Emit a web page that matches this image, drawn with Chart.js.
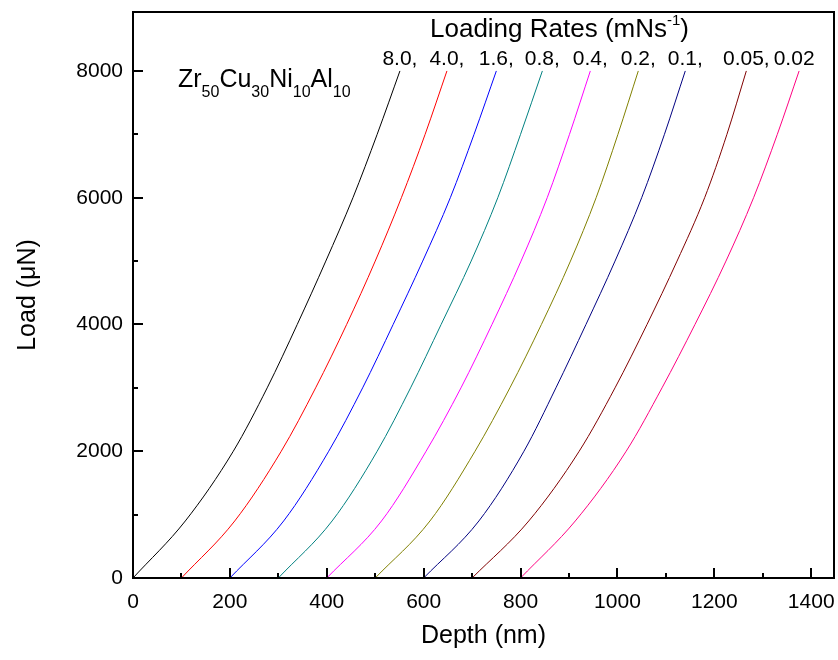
<!DOCTYPE html>
<html>
<head>
<meta charset="utf-8">
<script src="https://cdn.jsdelivr.net/npm/chart.js@4.4.0/dist/chart.umd.min.js"></script>
<style>
    body { margin: 0; background: #fff; }
    #wrap { width: 838px; height: 660px; }
</style>
</head>
<body>
<div id="wrap"><canvas id="loadChart" width="838" height="660"></canvas></div>
<script>
// Load levels (uN) at which the depth of every curve was read
const loads = [0, 900, 2000, 3000, 4000, 5000, 6000, 7000, 8000];

// Depth (nm) at those loads, one array per loading rate (mN/s)
const depth8_0  = [0,   108, 207,  277,  339,  398,  454,  504,  551];
const depth4_0  = [100, 210, 306,  377,  441,  500,  554,  603,  648];
const depth1_6  = [200, 311, 404,  474,  537,  598,  655,  704,  750];
const depth0_8  = [300, 411, 504,  573,  636,  698,  753,  800,  845];
const depth0_4  = [400, 513, 605,  677,  741,  801,  855,  901,  944];
const depth0_2  = [500, 613, 706,  778,  843,  903,  956,  1001, 1043];
const depth0_1  = [600, 714, 807,  873,  935,  995,  1050, 1097, 1140];
const depth0_05 = [700, 817, 921,  995,  1061, 1123, 1180, 1226, 1266];
const depth0_02 = [800, 913, 1018, 1092, 1160, 1224, 1281, 1330, 1375];

const rateLabels = ['8.0,', '4.0,', '1.6,', '0.8,', '0.4,', '0.2,', '0.1,', '0.05,', '0.02'];
const rateColors = ['#000000', '#FF0000', '#0000FF', '#008080', '#FF00FF', '#808000', '#000080', '#800000', '#FF0080'];
const allDepths = [depth8_0, depth4_0, depth1_6, depth0_8, depth0_4, depth0_2, depth0_1, depth0_05, depth0_02];

// Axis ticks
const xTicks = [0, 200, 400, 600, 800, 1000, 1200, 1400];
const xMinor = [100, 300, 500, 700, 900, 1100, 1300];
const yTicks = [0, 2000, 4000, 6000, 8000];
const yMinor = [1000, 3000, 5000, 7000];

const FONT = "'Liberation Sans', Arial, sans-serif";

const datasets = allDepths.map((d, i) => ({
    label: rateLabels[i],
    data: d.map((h, j) => ({ x: h, y: loads[j] })),
    borderColor: rateColors[i],
    borderWidth: 1,
    pointRadius: 0,
    fill: false,
    cubicInterpolationMode: 'monotone'
}));

// Frame, inward ticks and in-plot text
const framePlugin = {
    id: 'frame',
    afterDatasetsDraw(chart) {
        const { ctx, chartArea: a, scales: { x, y } } = chart;
        ctx.save();
        ctx.strokeStyle = '#000';
        ctx.lineWidth = 2;
        ctx.strokeRect(a.left, a.top, a.right - a.left, a.bottom - a.top);

        ctx.beginPath();
        xTicks.concat(xMinor).forEach(v => {
            const px = Math.round(x.getPixelForValue(v));
            const len = xTicks.includes(v) ? 10 : 5;
            ctx.moveTo(px, a.bottom);
            ctx.lineTo(px, a.bottom - len);
        });
        yTicks.concat(yMinor).forEach(v => {
            const py = Math.round(y.getPixelForValue(v));
            const len = yTicks.includes(v) ? 10 : 5;
            ctx.moveTo(a.left, py);
            ctx.lineTo(a.left + len, py);
        });
        ctx.stroke();

        ctx.fillStyle = '#000';
        ctx.textBaseline = 'alphabetic';

        // Rate labels above the end of each curve
        ctx.font = '21px ' + FONT;
        ctx.textAlign = 'center';
        allDepths.forEach((d, i) => {
            const px = x.getPixelForValue(d[d.length - 1]);
            const shift = rateLabels[i].endsWith(',') ? 0 : -5;
            ctx.fillText(rateLabels[i], px + shift, 65);
        });

        // "Loading Rates (mNs-1)"
        ctx.textAlign = 'left';
        let tx = 430;
        ctx.font = '26px ' + FONT;
        const main = 'Loading Rates (mNs';
        ctx.fillText(main, tx, 37);
        tx += ctx.measureText(main).width;
        ctx.font = '15px ' + FONT;
        ctx.fillText('-1', tx, 25);
        tx += ctx.measureText('-1').width;
        ctx.font = '26px ' + FONT;
        ctx.fillText(')', tx, 37);

        // Alloy composition with subscripts
        const parts = [['Zr', '50'], ['Cu', '30'], ['Ni', '10'], ['Al', '10']];
        let fx = 178;
        parts.forEach(([el, sub]) => {
            ctx.font = '25px ' + FONT;
            ctx.fillText(el, fx, 87);
            fx += ctx.measureText(el).width;
            ctx.font = '16px ' + FONT;
            ctx.fillText(sub, fx, 97);
            fx += ctx.measureText(sub).width;
        });
        ctx.restore();
    }
};

new Chart(document.getElementById('loadChart'), {
    type: 'line',
    data: { datasets: datasets },
    options: {
        responsive: false,
        animation: false,
        layout: { padding: { top: 12, right: 4, left: 0, bottom: 0 } },
        plugins: {
            legend: { display: false },
            tooltip: { enabled: false }
        },
        scales: {
            x: {
                type: 'linear',
                min: 0,
                max: 1447,
                afterFit: s => { s.height = 82; s.paddingLeft = 0; s.paddingRight = 0; },
                afterBuildTicks: s => { s.ticks = xTicks.map(v => ({ value: v })); },
                grid: { display: false, drawTicks: false },
                border: { display: false },
                ticks: { color: '#000', font: { family: FONT, size: 21 }, padding: 12, maxRotation: 0, callback: v => String(v) },
                title: { display: true, text: 'Depth (nm)', color: '#000', font: { family: FONT, size: 25 }, padding: { bottom: 9 } }
            },
            y: {
                type: 'linear',
                min: 0,
                max: 8930,
                afterFit: s => { s.width = 133; s.paddingTop = 0; s.paddingBottom = 0; },
                afterBuildTicks: s => { s.ticks = yTicks.map(v => ({ value: v })); },
                grid: { display: false, drawTicks: false },
                border: { display: false },
                ticks: { color: '#000', font: { family: FONT, size: 21 }, padding: 10, callback: v => String(v) },
                title: { display: true, text: 'Load (\u03bcN)', color: '#000', font: { family: FONT, size: 25 }, padding: { top: 13 } }
            }
        }
    },
    plugins: [framePlugin]
});
</script>
</body>
</html>
